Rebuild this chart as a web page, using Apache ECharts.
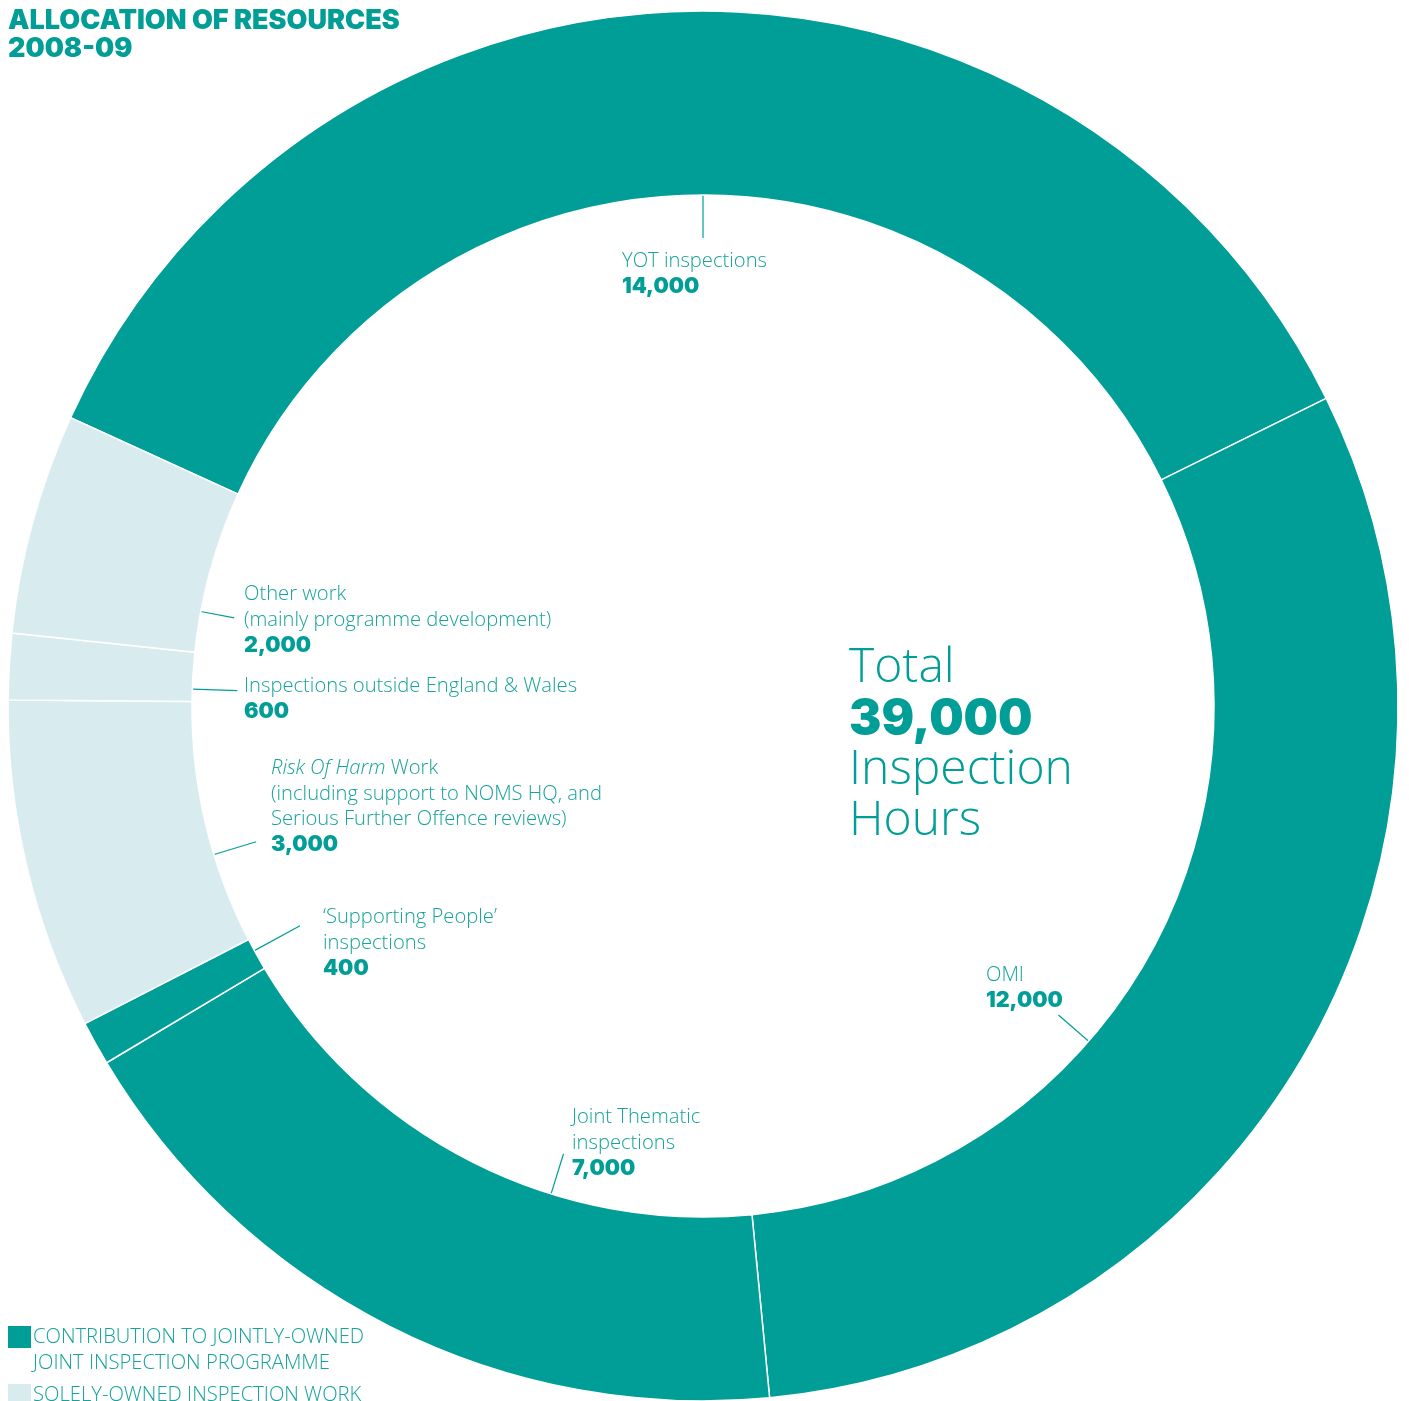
<!DOCTYPE html>
<html>
<head>
<meta charset="utf-8">
<script src="https://cdn.jsdelivr.net/npm/echarts@6/dist/echarts.min.js"></script>
<style>
  html, body { margin: 0; padding: 0; background: #ffffff; }
  #chart { width: 1409px; height: 1401px; }
</style>
</head>
<body>
<div id="chart"></div>
<script>
// Inspection hours by area of work, 2008-09
const categories = [
  'YOT inspections',
  'OMI',
  'Joint Thematic\ninspections',
  '\u2018Supporting People\u2019\ninspections',
  'Risk Of Harm Work\n(including support to NOMS HQ, and\nSerious Further Offence reviews)',
  'Inspections outside England & Wales',
  'Other work\n(mainly programme development)'
];
const values = [14000, 12000, 7000, 400, 3000, 600, 2000];
const ownership = ['joint', 'joint', 'joint', 'joint', 'sole', 'sole', 'sole'];
const legendLabels = ['CONTRIBUTION TO JOINTLY-OWNED\nJOINT INSPECTION PROGRAMME', 'SOLELY-OWNED INSPECTION WORK'];
const titleLines = ['ALLOCATION OF RESOURCES', '2008-09'];
const centreLines = ['Total', 'Inspection', 'Hours'];

// styling
const TEAL = '#009e96';
const LIGHT = '#d8ecf0';
const TEXT = '#16a39b';
const LIGHT_FONT = 'Open Sans';
const HEAVY_FONT = 'Inter';

// ring geometry
const CX = 703, CY = 706, R_IN = 511, R_OUT = 695;
const START = 155.5; // degrees, counter-clockwise from 3 o'clock

// where each label sits inside the ring, and its leader line
const labelSpots = [
  { x: 622, y: 248.5, hint: 0, len: 43 },
  { x: 986, y: 962.5, hint: 131, len: 40 },
  { x: 572, y: 1104.5, hint: 197.3, len: 42 },
  { x: 323, y: 904.5, hint: 241.4, len: 52 },
  { x: 271, y: 755.5, hint: 253.1, len: 44 },
  { x: 244, y: 673.5, hint: 268.8, len: 45 },
  { x: 244, y: 581.5, hint: 279.7, len: 34 }
];

const total = values.reduce((a, b) => a + b, 0);

// slice extents in clock degrees (0 = 12 o'clock, clockwise)
const spans = [];
let acc = 90 - START;
values.forEach(v => { const s = acc; acc += v / total * 360; spans.push([s, acc]); });

function polar(r, deg) {
  const t = deg * Math.PI / 180;
  return [CX + r * Math.sin(t), CY - r * Math.cos(t)];
}

const fmt = n => n.toLocaleString('en-US');

const chart = echarts.init(document.getElementById('chart'), null, { renderer: 'canvas' });

chart.setOption({
  backgroundColor: '#ffffff',
  animation: false,
  title: {
    text: titleLines.join('\n'),
    left: 3,
    top: 2,
    textStyle: {
      fontFamily: HEAVY_FONT,
      fontWeight: 900,
      fontSize: 27,
      lineHeight: 28,
      color: TEAL
    }
  },
  series: [{
    type: 'pie',
    center: [CX, CY],
    radius: [R_IN, R_OUT],
    startAngle: START,
    clockwise: true,
    avoidLabelOverlap: false,
    silent: true,
    emphasis: { scale: false },
    itemStyle: { borderColor: '#ffffff', borderWidth: 1.5 },
    data: categories.map((name, i) => ({
      name: name,
      value: values[i],
      itemStyle: { color: ownership[i] === 'joint' ? TEAL : LIGHT }
    })),
    label: {
      show: true,
      position: 'outside',
      formatter: p => {
        const lines = p.name.split('\n').map(l =>
          l.startsWith('Risk Of Harm')
            ? '{i|Risk Of Harm}{t|' + l.slice(12) + '}'
            : '{t|' + l + '}');
        return lines.join('\n') + '\n{b|' + fmt(p.value) + '}';
      },
      rich: {
        t: { fontFamily: LIGHT_FONT, fontWeight: 300, fontSize: 20.2, lineHeight: 25.5, color: TEXT },
        i: { fontFamily: LIGHT_FONT, fontWeight: 300, fontStyle: 'italic', fontSize: 20.2, lineHeight: 25.5, color: TEXT },
        b: { fontFamily: HEAVY_FONT, fontWeight: 900, fontSize: 21.5, lineHeight: 25.5, color: TEAL }
      }
    },
    labelLine: {
      show: true,
      smooth: false,
      lineStyle: { color: TEAL, width: 1.2 }
    },
    labelLayout: params => {
      const i = params.dataIndex;
      const spot = labelSpots[i];
      const [s, e] = spans[i];
      const m = (e - s) * 0.25;
      const ang = Math.min(Math.max(spot.hint, s + m), e - m);
      const a = polar(R_IN, ang);
      const b = polar(R_IN - spot.len, ang);
      return {
        x: spot.x,
        y: spot.y,
        align: 'left',
        verticalAlign: 'top',
        labelLinePoints: [a, a, b]
      };
    }
  }],
  graphic: [
    {
      type: 'text',
      left: 849,
      top: 644,
      silent: true,
      style: {
        text: '{a|' + centreLines[0] + '}\n{b|' + fmt(total) + '}\n{a|' + centreLines[1] + '}\n{a|' + centreLines[2] + '}',
        rich: {
          a: { fontFamily: LIGHT_FONT, fontWeight: 300, fontSize: 48, lineHeight: 51, fill: TEAL },
          b: { fontFamily: HEAVY_FONT, fontWeight: 900, fontSize: 48.5, lineHeight: 51, fill: TEAL }
        }
      }
    },
    {
      type: 'rect',
      silent: true,
      shape: { x: 8, y: 1326, width: 23, height: 22 },
      style: { fill: TEAL }
    },
    {
      type: 'text',
      silent: true,
      left: 33,
      top: 1324.5,
      style: {
        text: legendLabels[0],
        fontFamily: LIGHT_FONT,
        fontWeight: 300,
        fontSize: 20.2,
        lineHeight: 25.5,
        fill: TEXT
      }
    },
    {
      type: 'rect',
      silent: true,
      shape: { x: 8, y: 1384, width: 23, height: 22 },
      style: { fill: LIGHT }
    },
    {
      type: 'text',
      silent: true,
      left: 33,
      top: 1382.5,
      style: {
        text: legendLabels[1],
        fontFamily: LIGHT_FONT,
        fontWeight: 300,
        fontSize: 20.2,
        lineHeight: 25.5,
        fill: TEXT
      }
    }
  ]
});
</script>
</body>
</html>
